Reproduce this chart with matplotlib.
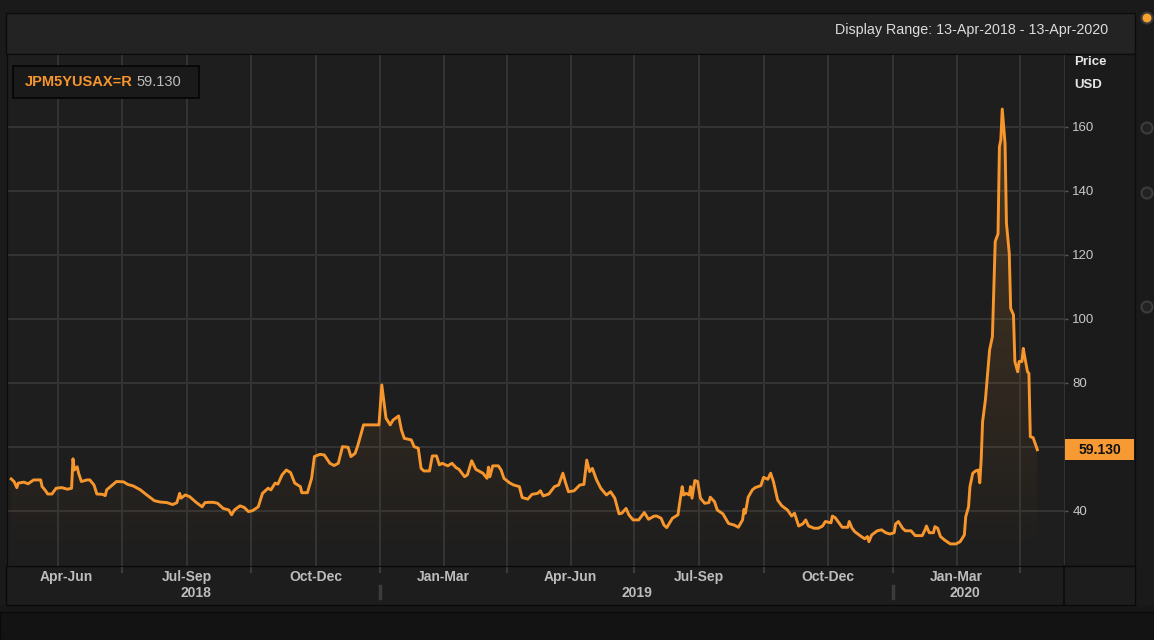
import numpy as np
import pandas as pd
import matplotlib
matplotlib.use("Agg")
import matplotlib.pyplot as plt
import matplotlib.dates as mdates
from matplotlib.patches import Rectangle, Ellipse
from matplotlib.lines import Line2D
from matplotlib.transforms import blended_transform_factory

plt.rcParams['font.family'] = ['Liberation Sans', 'DejaVu Sans']

ric = "JPM5YUSAX=R"
range_text = "Display Range: 13-Apr-2018 - 13-Apr-2020"
start_date = "2018-04-13"
end_date = "2020-04-13"

dates = [
    "2018-04-13", "2018-04-15", "2018-04-17", "2018-04-18", "2018-04-22", "2018-04-25", "2018-04-29",
    "2018-05-04", "2018-05-05", "2018-05-07", "2018-05-09", "2018-05-12", "2018-05-15", "2018-05-19",
    "2018-05-23", "2018-05-26", "2018-05-27", "2018-05-28", "2018-05-30", "2018-05-31", "2018-06-02",
    "2018-06-06", "2018-06-08", "2018-06-11", "2018-06-13", "2018-06-17", "2018-06-19", "2018-06-20",
    "2018-06-24", "2018-06-27", "2018-07-02", "2018-07-05", "2018-07-09", "2018-07-14", "2018-07-18",
    "2018-07-24", "2018-07-28", "2018-08-02", "2018-08-06", "2018-08-09", "2018-08-11", "2018-08-12",
    "2018-08-15", "2018-08-18", "2018-08-23", "2018-08-27", "2018-08-29", "2018-09-01", "2018-09-04",
    "2018-09-07", "2018-09-11", "2018-09-15", "2018-09-17", "2018-09-19", "2018-09-23", "2018-09-26",
    "2018-09-29", "2018-10-02", "2018-10-06", "2018-10-09", "2018-10-13", "2018-10-15", "2018-10-18",
    "2018-10-20", "2018-10-23", "2018-10-26", "2018-10-29", "2018-11-01", "2018-11-05", "2018-11-06",
    "2018-11-10", "2018-11-13", "2018-11-15", "2018-11-19", "2018-11-22", "2018-11-26", "2018-11-29",
    "2018-12-02", "2018-12-05", "2018-12-09", "2018-12-11", "2018-12-14", "2018-12-16", "2018-12-17",
    "2018-12-20", "2018-12-27", "2018-12-31",
    "2019-01-02", "2019-01-05", "2019-01-08", "2019-01-10", "2019-01-14", "2019-01-16", "2019-01-18",
    "2019-01-23", "2019-01-25", "2019-01-28", "2019-01-30", "2019-02-01", "2019-02-05", "2019-02-07",
    "2019-02-10", "2019-02-12", "2019-02-14", "2019-02-18", "2019-02-21", "2019-02-24", "2019-02-26",
    "2019-03-02", "2019-03-04", "2019-03-07", "2019-03-10", "2019-03-15", "2019-03-18", "2019-03-19",
    "2019-03-20", "2019-03-22", "2019-03-26", "2019-03-28", "2019-03-30", "2019-04-03", "2019-04-06",
    "2019-04-10", "2019-04-12", "2019-04-16", "2019-04-19", "2019-04-23", "2019-04-25", "2019-04-27",
    "2019-05-01", "2019-05-05", "2019-05-08", "2019-05-11", "2019-05-13", "2019-05-15", "2019-05-19",
    "2019-05-23", "2019-05-26", "2019-05-28", "2019-05-30", "2019-06-01", "2019-06-04", "2019-06-07",
    "2019-06-11", "2019-06-14", "2019-06-17", "2019-06-20", "2019-06-22", "2019-06-25", "2019-06-27",
    "2019-06-30", "2019-07-04", "2019-07-08", "2019-07-11", "2019-07-15", "2019-07-17", "2019-07-20",
    "2019-07-22", "2019-07-24", "2019-07-28", "2019-08-01", "2019-08-02", "2019-08-04", "2019-08-05",
    "2019-08-07", "2019-08-09", "2019-08-10", "2019-08-11", "2019-08-13", "2019-08-15", "2019-08-17",
    "2019-08-20", "2019-08-23", "2019-08-24", "2019-08-27", "2019-08-29", "2019-09-02", "2019-09-06",
    "2019-09-10", "2019-09-13", "2019-09-16", "2019-09-17", "2019-09-18", "2019-09-20", "2019-09-23",
    "2019-09-25", "2019-09-29", "2019-10-01", "2019-10-04", "2019-10-06", "2019-10-08", "2019-10-11",
    "2019-10-14", "2019-10-18", "2019-10-21", "2019-10-23", "2019-10-26", "2019-10-29", "2019-10-31",
    "2019-11-02", "2019-11-06", "2019-11-09", "2019-11-12", "2019-11-14", "2019-11-18", "2019-11-19",
    "2019-11-21", "2019-11-24", "2019-11-26", "2019-11-30", "2019-12-01", "2019-12-03", "2019-12-05",
    "2019-12-09", "2019-12-12", "2019-12-14", "2019-12-15", "2019-12-17", "2019-12-21", "2019-12-24",
    "2019-12-27", "2019-12-30",
    "2020-01-02", "2020-01-03", "2020-01-05", "2020-01-08", "2020-01-10", "2020-01-14", "2020-01-17",
    "2020-01-22", "2020-01-24", "2020-01-25", "2020-01-27", "2020-01-30", "2020-01-31", "2020-02-02",
    "2020-02-04", "2020-02-07", "2020-02-11", "2020-02-15", "2020-02-18", "2020-02-21", "2020-02-22",
    "2020-02-24", "2020-02-25", "2020-02-27", "2020-02-29", "2020-03-02", "2020-03-03", "2020-03-04",
    "2020-03-05", "2020-03-07", "2020-03-08", "2020-03-10", "2020-03-12", "2020-03-14", "2020-03-16",
    "2020-03-17", "2020-03-18", "2020-03-19", "2020-03-21", "2020-03-22", "2020-03-24", "2020-03-25",
    "2020-03-27", "2020-03-28", "2020-03-30", "2020-03-31", "2020-04-02", "2020-04-03", "2020-04-04",
    "2020-04-06", "2020-04-07", "2020-04-08", "2020-04-10", "2020-04-13",
]

values = [
    50.0, 49.2, 47.3, 48.7, 49.0, 48.5, 49.7,
    49.7, 47.6, 46.6, 45.3, 45.3, 47.1, 47.3,
    46.8, 47.1, 56.3, 52.8, 53.8, 51.8, 49.2,
    49.7, 49.7, 48.1, 45.3, 45.2, 44.8, 46.6,
    48.1, 49.2, 49.1, 48.3, 47.8, 46.6, 45.2,
    43.2, 42.8, 42.6, 42.0, 42.6, 45.5, 44.0,
    45.0, 44.5, 42.6, 41.3, 42.6, 42.7, 42.7,
    42.4, 40.8, 40.3, 38.8, 40.3, 41.6, 41.1,
    39.8, 40.1, 41.3, 45.5, 47.1, 46.6, 48.7,
    48.4, 51.3, 52.8, 52.0, 48.7, 47.6, 45.7,
    45.7, 50.2, 57.0, 57.7, 57.5, 54.9, 54.2,
    54.9, 60.1, 59.9, 57.0, 58.0, 60.6, 62.2,
    66.9, 66.9, 66.9,
    79.4, 69.0, 66.9, 68.4, 69.7, 65.3, 62.7,
    62.2, 60.1, 59.6, 53.3, 52.5, 52.5, 57.2,
    57.2, 54.4, 54.9, 54.1, 54.9, 53.5, 53.0,
    50.7, 51.3, 55.7, 53.0, 51.8, 50.2, 53.7,
    50.7, 54.1, 54.1, 52.8, 50.2, 48.8, 48.1,
    47.6, 44.2, 43.7, 45.2, 45.5, 46.3, 44.7,
    45.3, 47.6, 48.1, 51.8, 48.7, 46.0, 46.3,
    48.1, 48.3, 55.9, 52.3, 53.3, 49.7, 47.1,
    45.0, 46.0, 44.0, 39.1, 39.3, 40.8, 38.8,
    37.2, 37.2, 39.5, 37.4, 38.4, 38.4, 37.7,
    35.6, 34.8, 37.7, 38.8, 41.9, 47.6, 45.0,
    45.5, 45.0, 47.6, 44.0, 49.5, 49.2, 44.0,
    42.4, 42.6, 44.3, 42.9, 40.3, 39.1, 36.1,
    35.6, 34.9, 37.2, 40.5, 39.3, 44.3, 46.6,
    47.3, 47.9, 50.5, 49.9, 51.8, 49.2, 43.4,
    41.6, 40.3, 38.4, 39.3, 35.3, 36.0, 37.2,
    35.3, 34.6, 34.6, 35.3, 36.7, 36.3, 38.4,
    37.9, 36.1, 34.9, 34.9, 36.7, 34.6, 33.5,
    32.2, 31.3, 32.0, 30.4, 32.5, 33.8, 34.1,
    33.2, 32.8,
    33.2, 35.9, 36.7, 34.6, 33.8, 33.8, 32.3,
    32.3, 34.1, 35.3, 33.2, 33.2, 35.1, 34.6,
    32.0, 30.9, 29.7, 29.7, 30.4, 32.5, 38.2,
    41.3, 47.6, 51.8, 52.5, 52.8, 48.8, 56.0,
    67.9, 74.7, 79.9, 90.3, 94.5, 124.2, 126.6,
    153.8, 156.0, 165.6, 154.9, 129.9, 120.5, 103.3,
    101.3, 86.7, 83.5, 86.7, 86.7, 90.8, 88.2,
    83.5, 83.0, 63.2, 62.9, 59.13,
]

quarter_labels = ["Apr-Jun", "Jul-Sep", "Oct-Dec", "Jan-Mar", "Apr-Jun", "Jul-Sep", "Oct-Dec", "Jan-Mar"]
year_labels = ["2018", "2019", "2020"]
y_ticks = [40, 60, 80, 100, 120, 140, 160]
# the 60 label sits under the last-value box, so it is not shown
y_tick_labels = ["40", "", "80", "100", "120", "140", "160"]

line_color = "#f7962d"
W, H = 1154, 640

fig = plt.figure(figsize=(W / 100, H / 100), dpi=100, facecolor="#1a1a1a")


def box(x0, y0, x1, y1, **kw):
    # pixel box measured from the top-left corner
    r = Rectangle((x0 / W, 1 - y1 / H), (x1 - x0) / W, (y1 - y0) / H,
                  transform=fig.transFigure, **kw)
    fig.add_artist(r)
    return r


# frame pieces
box(0, 605, W, 612, fc="#171717", ec="none", zorder=-10)
box(0, 612, W, H, fc="#131313", ec="#0a0a0a", lw=1, zorder=-10)
box(6, 13, 1135, 54, fc="#232323", ec="#0c0c0c", lw=1, zorder=-10)
box(1064, 54, 1135, 566, fc="#1b1b1b", ec="#0c0c0c", lw=1, zorder=-10)
box(6, 566, 1135, 605, fc="#1d1d1d", ec="#0a0a0a", lw=1, zorder=-10)
fig.add_artist(Line2D([1064 / W, 1064 / W], [1 - 566 / H, 1 - 605 / H], color="#0a0a0a", lw=1.2,
                      transform=fig.transFigure))

# side buttons
for cy, fc, ec in [(18, "#f7a030", "#3a3a3a"), (128, "#222222", "#3c3c3c"),
                   (193, "#222222", "#3c3c3c"), (307, "#222222", "#3c3c3c")]:
    fig.add_artist(Ellipse((1147 / W, 1 - cy / H), 11 / W, 11 / H, transform=fig.transFigure,
                           fc=fc, ec=ec, lw=1.5))

ax = fig.add_axes([7 / W, 1 - 566 / H, (1064 - 7) / W, (566 - 54) / H])
ax.set_facecolor("#1e1e1e")

x = mdates.date2num(pd.to_datetime(dates))
y = np.array(values)
t0 = mdates.date2num(pd.Timestamp(start_date))
t1 = mdates.date2num(pd.Timestamp(end_date))
xmin = t0 - 3
xmax = t1 + 19
ymin, ymax = 22.8, 182.8

# gradient fill under the line
poly = ax.fill_between(x, y, ymin, facecolor="none", edgecolor="none")
grad = np.zeros((256, 1, 4))
grad[..., :3] = matplotlib.colors.to_rgb(line_color)
grad[:, 0, 3] = np.linspace(0.24, 0.0, 256)
im = ax.imshow(grad, extent=[x[0], x[-1], ymin, ymax], aspect="auto", origin="upper", zorder=1)
im.set_clip_path(poly.get_paths()[0], transform=ax.transData)

ax.plot(x, y, color=line_color, lw=2.1, zorder=3)

ax.set_xlim(xmin, xmax)
ax.set_ylim(ymin, ymax)

# quarters: boundaries for ticks, mid points for extra grid lines
q_starts = pd.date_range("2018-04-01", "2020-07-01", freq="QS")
q_num = mdates.date2num(q_starts)
q_mid = (q_num[:-1] + q_num[1:]) / 2
ax.set_xticks([q for q in q_num if xmin < q < xmax])
ax.set_xticks([q for q in q_mid if xmin < q < xmax], minor=True)
ax.tick_params(axis="x", which="major", direction="out", length=5, width=1.5, color="#3c3c3c",
               labelbottom=False)
ax.tick_params(axis="x", which="minor", length=0, labelbottom=False)

ax.yaxis.tick_right()
ax.set_yticks(y_ticks)
ax.set_yticklabels(y_tick_labels)
ax.tick_params(axis="y", length=3, width=1, color="#555555", pad=3, labelcolor="#c8c8c8",
               labelsize=9.5)
ax.grid(which="both", color="#333333", lw=1.5)
ax.set_axisbelow(True)

for side in ["left", "top", "bottom"]:
    ax.spines[side].set_color("#0a0a0a")
ax.spines["right"].set_color("#333333")

# quarter and year labels, centred on the visible part of each period
xt = ax.get_xaxis_transform()
for i, lab in enumerate(quarter_labels):
    a = max(q_num[i], t0)
    b = min(q_num[i + 1], t1)
    ax.text((a + b) / 2, -0.0215, lab, transform=xt, ha="center", va="center",
            color="#bdbdbd", fontsize=10, fontweight="bold", clip_on=False)

for lab in year_labels:
    a = max(mdates.date2num(pd.Timestamp(lab + "-01-01")), t0)
    b = min(mdates.date2num(pd.Timestamp(str(int(lab) + 1) + "-01-01")), t1)
    ax.text((a + b) / 2, -0.053, lab, transform=xt, ha="center", va="center",
            color="#bdbdbd", fontsize=10, fontweight="bold", clip_on=False)
    if lab != year_labels[0]:
        yb = mdates.date2num(pd.Timestamp(lab + "-01-01"))
        ax.plot([yb, yb], [-0.039, -0.0625], transform=xt, color="#3c3c3c", lw=2.5, clip_on=False)

# last value box on the price scale
last = values[-1]
bt = blended_transform_factory(ax.transAxes, ax.transData)
ax.add_patch(Rectangle((1.001, last - 3.3), 69 / 1057, 6.6, transform=bt, fc="#f79a33", ec="none",
                       clip_on=False, zorder=10))
ax.text(1.001 + 34.5 / 1057, last, f"{last:.3f}", transform=bt, ha="center", va="center",
        color="#111111", fontsize=10, fontweight="bold", clip_on=False, zorder=11)

# header and scale captions
fig.text(1108 / W, 1 - 30 / H, range_text, ha="right", va="center", color="#dcdcdc", fontsize=10.3)
fig.text(1074 / W, 1 - 62 / H, "Price", ha="left", va="center", color="#e6e6e6", fontsize=9.5,
         fontweight="bold")
fig.text(1074 / W, 1 - 85 / H, "USD", ha="left", va="center", color="#e6e6e6", fontsize=9.5,
         fontweight="bold")

# legend box
box(13, 66, 199, 98, fc="#1a1a1a", ec="#050505", lw=1.2, zorder=5)
t_ric = fig.text(25 / W, 1 - 82 / H, ric, ha="left", va="center", color=line_color, fontsize=10.5,
                 fontweight="bold", zorder=6)
fig.canvas.draw()
bb = t_ric.get_window_extent()
fig.text((bb.x1 + 4) / W, 1 - 82 / H, f"{last:.3f}", ha="left", va="center", color="#bdbdbd",
         fontsize=10.5, zorder=6)

fig.savefig("out.png", dpi=100, facecolor=fig.get_facecolor())
